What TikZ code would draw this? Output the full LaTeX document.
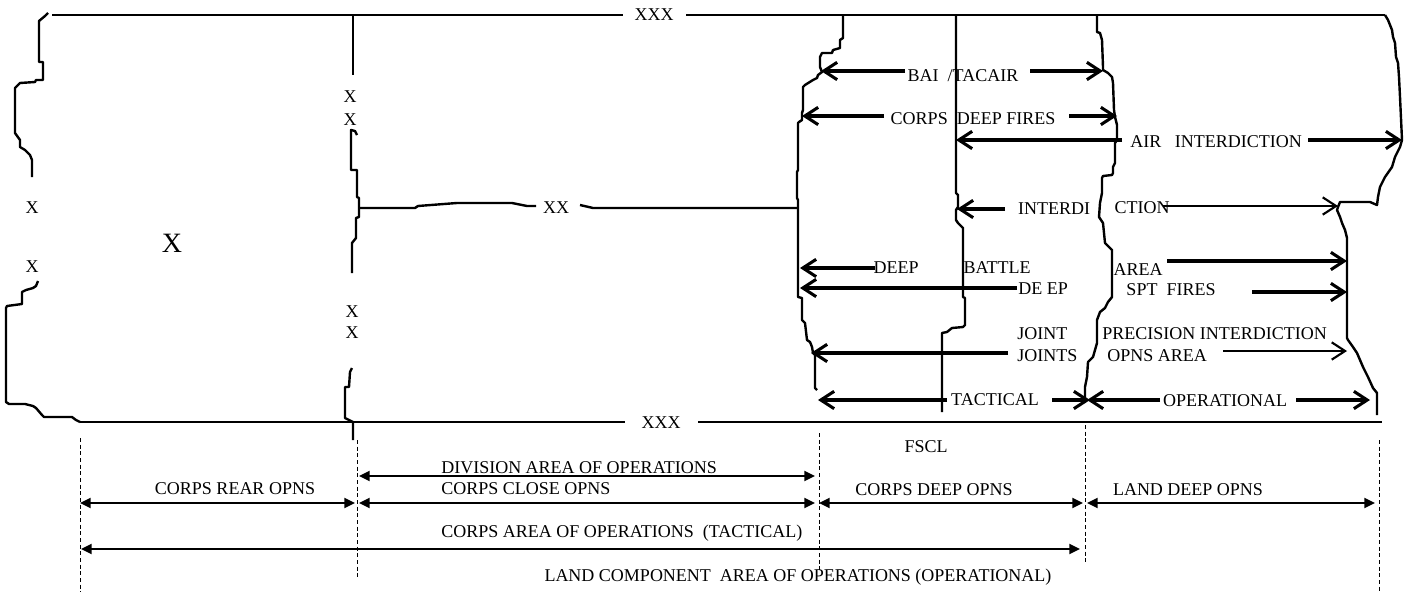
\documentclass[tikz,border=0pt]{standalone}
\usepackage{fontspec}
\setmainfont{Liberation Serif}
\usetikzlibrary{arrows.meta}
\begin{document}
\begin{tikzpicture}[x=0.75pt,y=-0.75pt,
  bnd/.style={line width=1.8pt,line join=round},
  frm/.style={line width=1.8pt},
  oarr/.style={line width=2.3pt,-{Straight Barb[length=10pt,width=13pt]}},
  thinoarr/.style={line width=1.6pt,-{Straight Barb[length=10pt,width=13pt]}},
  farr/.style={line width=1.5pt,{Triangle[length=8pt,width=7.5pt]}-{Triangle[length=8pt,width=7.5pt]}},
  lbl/.style={font=\fontsize{13.5}{15}\selectfont,inner sep=0pt},
  bigx/.style={font=\fontsize{21}{24}\selectfont,inner sep=0pt},
  dln/.style={line width=0.6pt,dash pattern=on 3pt off 2pt}]
\useasboundingbox (0,0) rectangle (1406,592);

% ---------- frame lines ----------
\node[lbl] (xxxT) at (654,15) {XXX};
\node[lbl] (xxxB) at (661,423) {XXX};
\coordinate (tl) at (52,15); \coordinate (tg1) at (623,15); \coordinate (tg2) at (686,15); \coordinate (tr) at (1385,15);
\coordinate (bl) at (80,422); \coordinate (bg1) at (625,422); \coordinate (bg2) at (698,422); \coordinate (br) at (1382,422);
\draw[frm] (tl) -- (tg1) (tg2) -- (tr);
\draw[frm] (bl) -- (bg1) (bg2) -- (br);

% ---------- left (corps rear) boundary ----------
\draw[bnd] (48,13) -- (45,16) -- (39,21) -- (39,62) -- (43,62) -- (43,80) -- (36,80) -- (35,82) -- (20,83) -- (17,86) -- (15,88) -- (15,133) -- (20,140) -- (20,147) -- (25,150) -- (30,155) -- (32,160) -- (32,177);
\node[lbl] (lx1) at (32,208) {X};
\node[lbl] (lx2) at (32,267) {X};
\draw[bnd] (38,281) -- (36,286) -- (33,288) -- (26,290) -- (22,292) -- (22,304) -- (7,306) -- (6,308) -- (6,402) -- (9,404) -- (25,404) -- (33,406) -- (36,408) -- (42,415) -- (44,417) -- (72,417) -- (76,420) -- (bl);
\node[bigx] (bigX) at (172,243) {X};

% ---------- division boundary ----------
\draw[bnd] (353,15) -- (353,75);
\node[lbl] (mx1) at (350,97) {X};
\node[lbl] (mx2) at (350,120) {X};
\draw[bnd] (357,135) -- (355,131) -- (351,130) -- (351,170) -- (357,170) -- (357,197) -- (359,198) -- (359,217) -- (356,218) -- (356,238) -- (352,243) -- (352,273);
\node[lbl] (mx3) at (352,312) {X};
\node[lbl] (mx4) at (352,333) {X};
\draw[bnd] (352,368) -- (350,372) -- (349,387) -- (345,387) -- (345,418) -- (349,420) -- (353,422) -- (353,440);
\node[lbl] (xx) at (556,208) {XX};
\draw[bnd] (359,208) -- (415,208) -- (418,206) -- (457,203) -- (512,203) -- (527,206) -- (536,206);
\draw[bnd] (580,205) -- (593,208) -- (798,208);

% ---------- right-hand boundaries ----------
\draw[bnd] (843,15) -- (843,38) -- (840,40) -- (840,48) -- (833,50) -- (832,53) -- (822,53) -- (820,57) -- (820,67) -- (822,72) -- (818,75) -- (817,78) -- (813,80) -- (805,85) -- (803,87) -- (803,110) -- (802,113) -- (802,120) -- (799,122) -- (798,123) -- (798,170) -- (797,172) -- (797,198) -- (798,200) -- (798,297) -- (802,298) -- (802,320) -- (805,323) -- (807,340) -- (810,342) -- (812,347) -- (813,353) -- (815,355) -- (815,388) -- (817,390);
\draw[bnd] (956,15) -- (956,193) -- (958,195) -- (958,207) -- (956,210) -- (956,220) -- (958,223) -- (962,227) -- (963,228) -- (963,297) -- (965,298) -- (965,325) -- (963,327) -- (952,328) -- (947,332) -- (942,333) -- (942,412);
\draw[bnd] (1097,15) -- (1097,32) -- (1100,33) -- (1102,40) -- (1103,67) -- (1103,70) -- (1108,73) -- (1112,77) -- (1113,83) -- (1114,110) -- (1115,117) -- (1117,125) -- (1117,140) -- (1115,143) -- (1115,163) -- (1113,167) -- (1113,173) -- (1112,175) -- (1103,176) -- (1102,178) -- (1102,193) -- (1100,203) -- (1099,217) -- (1103,223) -- (1105,243) -- (1112,250) -- (1112,297) -- (1108,302) -- (1105,308) -- (1100,312) -- (1097,320) -- (1097,343) -- (1093,357) -- (1088,362) -- (1087,377) -- (1085,387) -- (1085,400);
\draw[bnd] (1385,15) -- (1388,20) -- (1392,30) -- (1393,37) -- (1395,43) -- (1396,57) -- (1398,63) -- (1399,77) -- (1400,97) -- (1402,140) -- (1400,147) -- (1395,157) -- (1392,167) -- (1385,177) -- (1380,187) -- (1378,197) -- (1377,205) -- (1370,202) -- (1340,202) -- (1338,207) -- (1337,210) -- (1340,217) -- (1342,223) -- (1345,230) -- (1347,238) -- (1347,338) -- (1348,340) -- (1353,347) -- (1357,353) -- (1360,360) -- (1363,367) -- (1368,377) -- (1373,388) -- (1377,393) -- (1377,415);

% ---------- upper labels and open arrows ----------
\node[lbl] (bai) at (963,76) {BAI\ \ /TACAIR};
\draw[oarr] (905,71) coordinate (bai-a) -- (821,71) coordinate (bai-l);
\draw[oarr] (1030,71) coordinate (bai-b) -- (1103,71) coordinate (bai-r);

\node[lbl] (cdf) at (973,119) {CORPS\ \ DEEP FIRES};
\draw[oarr] (884,116) coordinate (cdf-a) -- (802,116) coordinate (cdf-l);
\draw[oarr] (1069,116) coordinate (cdf-b) -- (1117,116) coordinate (cdf-r);

\node[lbl] (ai) at (1216,142) {AIR\ \ \ INTERDICTION};
\draw[oarr] (1122,140) coordinate (ai-a) -- (956,140) coordinate (ai-l);
\draw[oarr] (1308,140) coordinate (ai-b) -- (1402,140) coordinate (ai-r);

\node[lbl] (int1) at (1054,209) {INTERDI};
\node[lbl] (int2) at (1142,208) {CTION};
\draw[oarr] (1005,209) coordinate (int-a) -- (957,209) coordinate (int-l);
\draw[thinoarr] (1163,206) coordinate (int-b) -- (1338,206) coordinate (int-r);

\node[lbl] (deep) at (896,268) {DEEP};
\node[lbl] (battle) at (997,268) {BATTLE};
\node[lbl] (area) at (1138,270) {AREA};
\draw[oarr] (875,268) coordinate (deep-a) -- (800,268) coordinate (deep-l);
\draw[oarr] (1167,261) coordinate (area-a) -- (1347,261) coordinate (area-r);

\node[lbl] (deep2) at (1043,289) {DE EP};
\draw[oarr] (1017,288) coordinate (deep2-a) -- (800,288) coordinate (deep2-l);

\node[lbl] (spt) at (1171,290) {SPT\ \ FIRES};
\draw[oarr] (1252,292) coordinate (spt-a) -- (1347,292) coordinate (spt-r);

\node[lbl,anchor=west] (joint) at (1017,334) {JOINT};
\node[lbl,anchor=west] (joints) at (1017,356) {JOINTS};
\draw[oarr] (1008,353) coordinate (joints-a) -- (811,353) coordinate (joints-l);

\node[lbl,anchor=west] (prec) at (1102,334) {PRECISION INTERDICTION};
\node[lbl,anchor=west] (opns) at (1107,356) {OPNS AREA};
\draw[thinoarr] (1223,351) coordinate (opns-a) -- (1347,351) coordinate (opns-r);

\node[lbl] (tact) at (995,400) {TACTICAL};
\draw[oarr] (947,400) coordinate (tact-a) -- (818,400) coordinate (tact-l);
\draw[oarr] (1052,400) coordinate (tact-b) -- (1090,400) coordinate (tact-r);

\node[lbl] (oper) at (1225,401) {OPERATIONAL};
\draw[oarr] (1160,400) coordinate (oper-a) -- (1087,400) coordinate (oper-l);
\draw[oarr] (1296,400) coordinate (oper-b) -- (1370,400) coordinate (oper-r);

% ---------- lower section ----------
\draw[dln] (80,438) -- (80,592);
\draw[dln] (357,440) -- (357,577);
\draw[dln] (819,433) -- (819,570);
\draw[dln] (1085,425) -- (1085,563);
\draw[dln] (1379,440) -- (1379,592);

\node[lbl] (fscl) at (926,447) {FSCL};
\node[lbl,anchor=west] (divao) at (441,468) {DIVISION AREA OF OPERATIONS};
\coordinate (d1) at (359,476); \coordinate (d2) at (815,476);
\draw[farr] (d1) -- (d2);

\node[lbl] (crear) at (235,489) {CORPS REAR OPNS};
\node[lbl,anchor=west] (cclose) at (441,489) {CORPS CLOSE OPNS};
\node[lbl] (cdeep) at (934,490) {CORPS DEEP OPNS};
\node[lbl] (ldeep) at (1188,490) {LAND DEEP OPNS};
\coordinate (r1) at (80,503); \coordinate (r2) at (355,503);
\coordinate (c1) at (359,503); \coordinate (c2) at (815,503);
\coordinate (e1) at (819,503); \coordinate (e2) at (1083,503);
\coordinate (f1) at (1087,503); \coordinate (f2) at (1375,503);
\draw[farr] (r1) -- (r2);
\draw[farr] (c1) -- (c2);
\draw[farr] (e1) -- (e2);
\draw[farr] (f1) -- (f2);

\node[lbl,anchor=west] (caao) at (441,533) {CORPS AREA OF OPERATIONS\ \ (TACTICAL)};
\coordinate (g1) at (81,549); \coordinate (g2) at (1080,549);
\draw[farr] (g1) -- (g2);

\node[lbl] (lcao) at (798,577) {LAND COMPONENT\ \ AREA OF OPERATIONS (OPERATIONAL)};
\end{tikzpicture}
\end{document}
